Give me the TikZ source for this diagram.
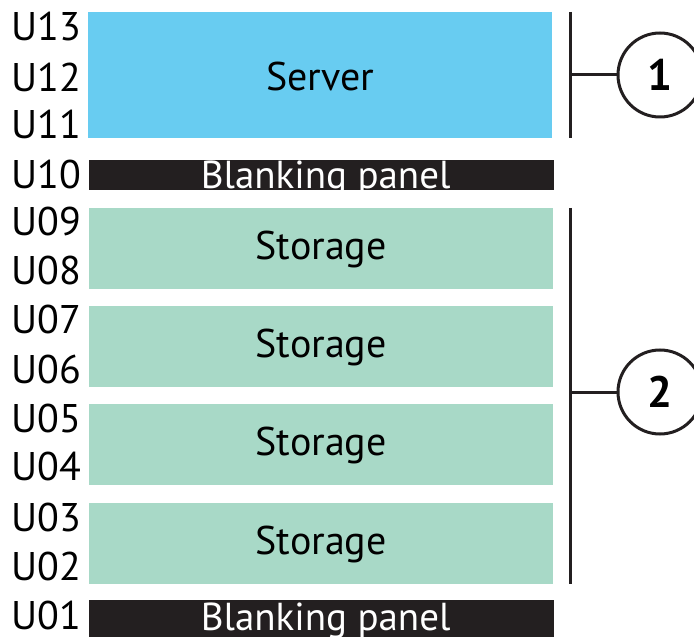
\documentclass[tikz,border=0pt]{standalone}
\usepackage{fontspec}
\setmainfont{PT Sans}
\definecolor{serverblue}{HTML}{68CCF1}
\definecolor{storagegreen}{HTML}{A8D9C7}
\definecolor{panelblack}{HTML}{231F20}
\begin{document}
\begin{tikzpicture}[x=1pt,y=-1pt,
  big/.style={font=\fontsize{40}{40}\selectfont},
  unit/.style={big,anchor=east,inner sep=0pt},
  slot/.style={draw=none,inner sep=0pt,anchor=north west},
  panel/.style={slot,fill=panelblack},
  paneltext/.style={font=\fontsize{39}{39}\selectfont,text=white,anchor=base,inner sep=0pt},
  bracket/.style={line width=3pt,panelblack},
  callout/.style={circle,draw=panelblack,line width=3pt,fill=white,minimum size=84pt,inner sep=0pt,font=\fontsize{44}{44}\selectfont\bfseries}]
\useasboundingbox (0,0) rectangle (694,639);

% rack units
\foreach \u/\y in {13/27,12/77,11/124,10/175,09/222,08/271,07/320,06/369,05/418,04/466,03/517,02/566,01/615}
  \node[unit] (u\u) at (81,\y) {U\u};

% equipment
\node[slot,fill=serverblue,minimum width=464pt,minimum height=126pt] (server) at (88,12) {};
\node[big] (servertext) at ([yshift=-1pt]server.center) {Server};
\node[panel,minimum width=465pt,minimum height=30pt] (blank1) at (89,160) {};
\node[paneltext] (blank1text) at ([xshift=4pt,yshift=2pt]blank1.south) {Blanking panel};
\foreach \i/\y in {1/208,2/306,3/404,4/503}{
  \node[slot,fill=storagegreen,minimum width=464pt,minimum height=81pt] (st\i) at (89,\y) {};
  \node[big] (st\i text) at ([yshift=-1pt]st\i.center) {Storage};
}
\node[panel,minimum width=465pt,minimum height=37pt] (blank2) at (89,600) {};
\node[paneltext] (blank2text) at ([xshift=4pt,yshift=7pt]blank2.south) {Blanking panel};

% brackets and callouts
\coordinate (b1t) at (570,12);
\coordinate (b1b) at (570,138);
\coordinate (b1m) at (570,75);
\coordinate (b2t) at (570,208);
\coordinate (b2b) at (570,584);
\coordinate (b2m) at (570,392);
\draw[bracket] (b1t) -- (b1b);
\draw[bracket] (b2t) -- (b2b);
\node[callout] (c1) at (660,75) {1};
\node[callout] (c2) at (660,392) {2};
\draw[bracket] (b1m) -- (c1.west);
\draw[bracket] (b2m) -- (c2.west);
\end{tikzpicture}
\end{document}
